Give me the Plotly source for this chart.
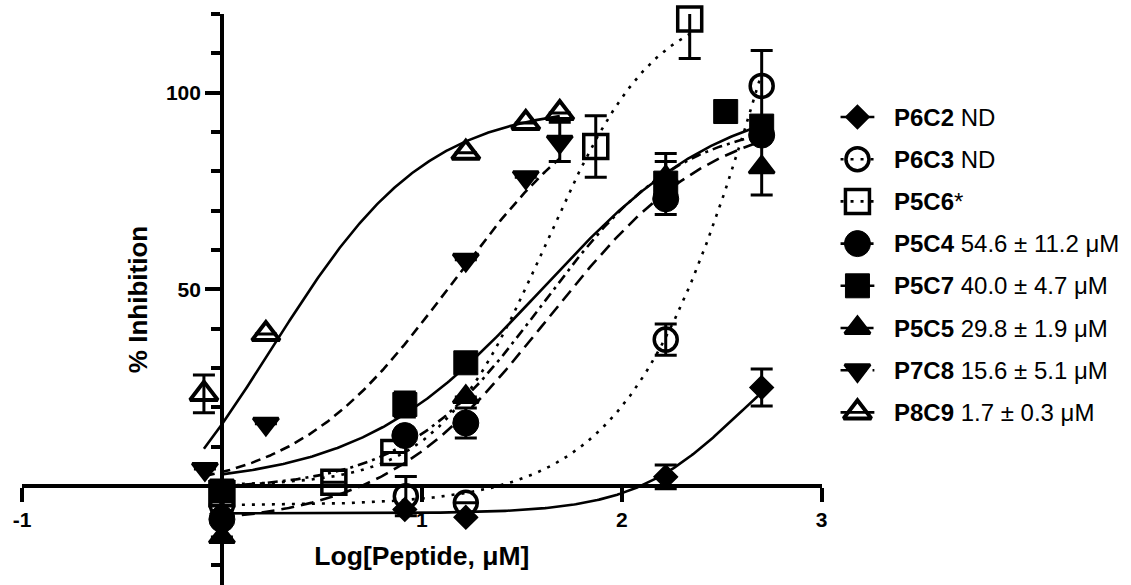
import numpy as np
import plotly.graph_objects as go

# ---- measured points: log10 concentration (uM), % inhibition, SEM ----
p6c2_x = [0.0, 0.915, 1.22, 2.22, 2.70]
p6c2_y = [-7.0, -6.0, -8.0, 2.3, 25.0]
p6c2_e = [None, None, None, 3.0, 4.7]

p6c3_x = [0.0, 0.92, 1.22, 2.22, 2.70]
p6c3_y = [-5.0, -2.6, -4.3, 37.2, 101.7]
p6c3_e = [None, 5.0, None, 4.0, 9.0]

p5c6_x = [0.0, 0.56, 0.86, 1.87, 2.34]
p5c6_y = [-2.0, 0.9, 8.5, 86.3, 118.7]
p5c6_e = [None, None, None, 7.8, 10.0]

p5c4_x = [0.0, 0.915, 1.22, 2.22, 2.70]
p5c4_y = [-8.5, 12.8, 16.0, 73.0, 89.2]
p5c4_e = [None, None, 3.8, 4.0, None]

p5c7_x = [0.0, 0.915, 1.22, 2.22, 2.52, 2.70]
p5c7_y = [-1.3, 20.7, 31.3, 77.0, 95.2, 91.5]
p5c7_e = [None, 3.2, None, 5.5, None, None]

p5c5_x = [0.0, 1.22, 2.22, 2.70]
p5c5_y = [-13.0, 22.6, 78.5, 81.0]
p5c5_e = [None, None, 6.0, 7.0]

p7c8_x = [-0.085, 0.22, 1.22, 1.52, 1.69]
p7c8_y = [4.3, 15.8, 57.5, 78.5, 87.5]
p7c8_e = [None, None, None, None, 5.0]

p8c9_x = [-0.09, 0.22, 1.22, 1.52, 1.69]
p8c9_y = [23.4, 38.6, 84.7, 92.3, 94.8]
p8c9_e = [4.8, None, None, None, None]

# ---- four-parameter logistic fits: bottom, top, logIC50, Hill slope ----
p6c2_fit = [-7.0, 45.0, 2.6, 1.6]
p6c3_fit = [-5.0, 250.0, 2.8, 1.2]
p5c6_fit = [0.0, 123.0, 1.62, 1.6]
p5c4_fit = [-1.0, 93.0, 1.6, 1.25]
p5c7_fit = [0.0, 100.0, 1.6, 0.95]
p5c5_fit = [-10.0, 95.0, 1.63, 1.05]
p7c8_fit = [-2.0, 105.0, 1.15, 1.1]
p8c9_fit = [-27.0, 97.0, 0.25, 1.12]

# ---- legend labels ----
names = ["P6C2", "P6C3", "P5C6", "P5C4", "P5C7", "P5C5", "P7C8", "P8C9"]
notes = [" ND", " ND", "*", " 54.6 \u00b1 11.2 \u03bcM", " 40.0 \u00b1 4.7 \u03bcM",
         " 29.8 \u00b1 1.9 \u03bcM", " 15.6 \u00b1 5.1 \u03bcM", " 1.7 \u00b1 0.3 \u03bcM"]

# ---- axis ticks ----
x_ticks = [-1, 1, 2, 3]
x_ticktext = ["-1", "1", "2", "3"]
y_ticks = [50, 100]
y_minor = [-20, -10, 10, 20, 30, 40, 60, 70, 80, 90, 110, 120]
x_range = [-1.0, 3.0]
y_range = [-25.2, 120.0]

FONT = "Liberation Sans, Arial, Helvetica, sans-serif"
BLACK = "black"

def logistic(x, p):
    b, t, c, h = p
    return b + (t - b) / (1.0 + 10.0 ** ((c - x) * h))

# marker symbol, marker size, outline width, line dash for each compound
styles = [
    ("diamond", 18, 1.5, "solid"),
    ("circle-open", 23, 3.5, "3px,7px"),
    ("square-open", 24, 3.5, "3px,7px"),
    ("circle", 26, 1, "10px,5px,3px,5px"),
    ("square", 24, 1, "solid"),
    ("triangle-up", 22, 3, "13px,7px"),
    ("triangle-down", 22, 3, "10px,6px"),
    ("triangle-up-open", 24, 4, "solid"),
]

series = [
    (p6c2_x, p6c2_y, p6c2_e, p6c2_fit),
    (p6c3_x, p6c3_y, p6c3_e, p6c3_fit),
    (p5c6_x, p5c6_y, p5c6_e, p5c6_fit),
    (p5c4_x, p5c4_y, p5c4_e, p5c4_fit),
    (p5c7_x, p5c7_y, p5c7_e, p5c7_fit),
    (p5c5_x, p5c5_y, p5c5_e, p5c5_fit),
    (p7c8_x, p7c8_y, p7c8_e, p7c8_fit),
    (p8c9_x, p8c9_y, p8c9_e, p8c9_fit),
]

fig = go.Figure()

# fitted curves
for (xs, ys, es, fit), (sym, size, lw, dash) in zip(series, styles):
    xx = np.linspace(min(xs), max(xs), 300)
    fig.add_trace(go.Scatter(
        x=xx, y=logistic(xx, fit), mode="lines",
        line=dict(color=BLACK, width=2.6, dash=dash),
        hoverinfo="skip", showlegend=False, cliponaxis=False))

# data points with SEM bars
for (xs, ys, es, fit), (sym, size, lw, dash) in zip(series, styles):
    fig.add_trace(go.Scatter(
        x=xs, y=ys, mode="markers",
        marker=dict(symbol=sym, size=size, color=BLACK,
                    line=dict(color=BLACK, width=lw)),
        error_y=dict(type="data", array=es, visible=True, color=BLACK,
                     thickness=3, width=11),
        showlegend=False, cliponaxis=False))

# ---- legend drawn on its own pixel-scaled axes ----
leg_x0, leg_top, leg_step = 862, 117, 42.2
for i, ((sym, size, lw, dash), nm, note) in enumerate(zip(styles, names, notes)):
    yy = leg_top + i * leg_step
    fig.add_trace(go.Scatter(
        x=[leg_x0 - 17, leg_x0 + 17], y=[yy, yy], mode="lines",
        line=dict(color=BLACK, width=2.6, dash=dash),
        xaxis="x2", yaxis="y2", showlegend=False, hoverinfo="skip"))
    fig.add_trace(go.Scatter(
        x=[leg_x0], y=[yy], mode="markers",
        marker=dict(symbol=sym, size=size, color=BLACK,
                    line=dict(color=BLACK, width=lw)),
        xaxis="x2", yaxis="y2", showlegend=False, hoverinfo="skip",
        cliponaxis=False))
    fig.add_annotation(
        x=leg_x0 + 35, y=yy, xref="x2", yref="y2", xanchor="left",
        yanchor="middle", showarrow=False,
        text=f"<b>{nm}</b>{note}",
        font=dict(family=FONT, size=24, color=BLACK))

W, H = 1131, 585
ML, MT = 22, 14
plot_w = W - ML
x_dom_end = 804 / plot_w

fig.update_layout(
    width=W, height=H,
    margin=dict(l=ML, r=0, t=MT, b=0),
    paper_bgcolor="white", plot_bgcolor="white",
    font=dict(family=FONT, color=BLACK),
    showlegend=False,
    xaxis=dict(
        domain=[0, x_dom_end], range=x_range, anchor="free",
        position=(0 - y_range[0]) / (y_range[1] - y_range[0]),
        showgrid=False, zeroline=False, showline=True,
        linecolor=BLACK, linewidth=3.5,
        ticks="outside", ticklen=14, tickwidth=3.5, tickcolor=BLACK,
        tickmode="array", tickvals=x_ticks, ticktext=x_ticktext,
        tickfont=dict(family=FONT, size=21, color=BLACK, weight="bold"),
        title=dict(text="Log[Peptide, \u03bcM]", standoff=16,
                   font=dict(family=FONT, size=26.5, color=BLACK,
                             weight="bold")),
    ),
    yaxis=dict(
        domain=[0, 1], range=y_range, anchor="free",
        position=x_dom_end * (0 - x_range[0]) / (x_range[1] - x_range[0]),
        showgrid=False, zeroline=False, showline=True,
        linecolor=BLACK, linewidth=3.5,
        ticks="outside", ticklen=15, tickwidth=3.5, tickcolor=BLACK,
        tickmode="array", tickvals=y_ticks,
        tickfont=dict(family=FONT, size=21, color=BLACK, weight="bold"),
        minor=dict(tickmode="array", tickvals=y_minor, ticks="outside",
                   ticklen=9, tickwidth=3.5, tickcolor=BLACK),
        title=dict(text="% Inhibition", standoff=10,
                   font=dict(family=FONT, size=26, color=BLACK,
                             weight="bold")),
    ),
    xaxis2=dict(domain=[(840 - ML) / plot_w, 1], range=[840, W],
                anchor="y2", visible=False),
    yaxis2=dict(domain=[0, 1], range=[H, MT], anchor="x2", visible=False),
)

fig.write_html("out.html")
